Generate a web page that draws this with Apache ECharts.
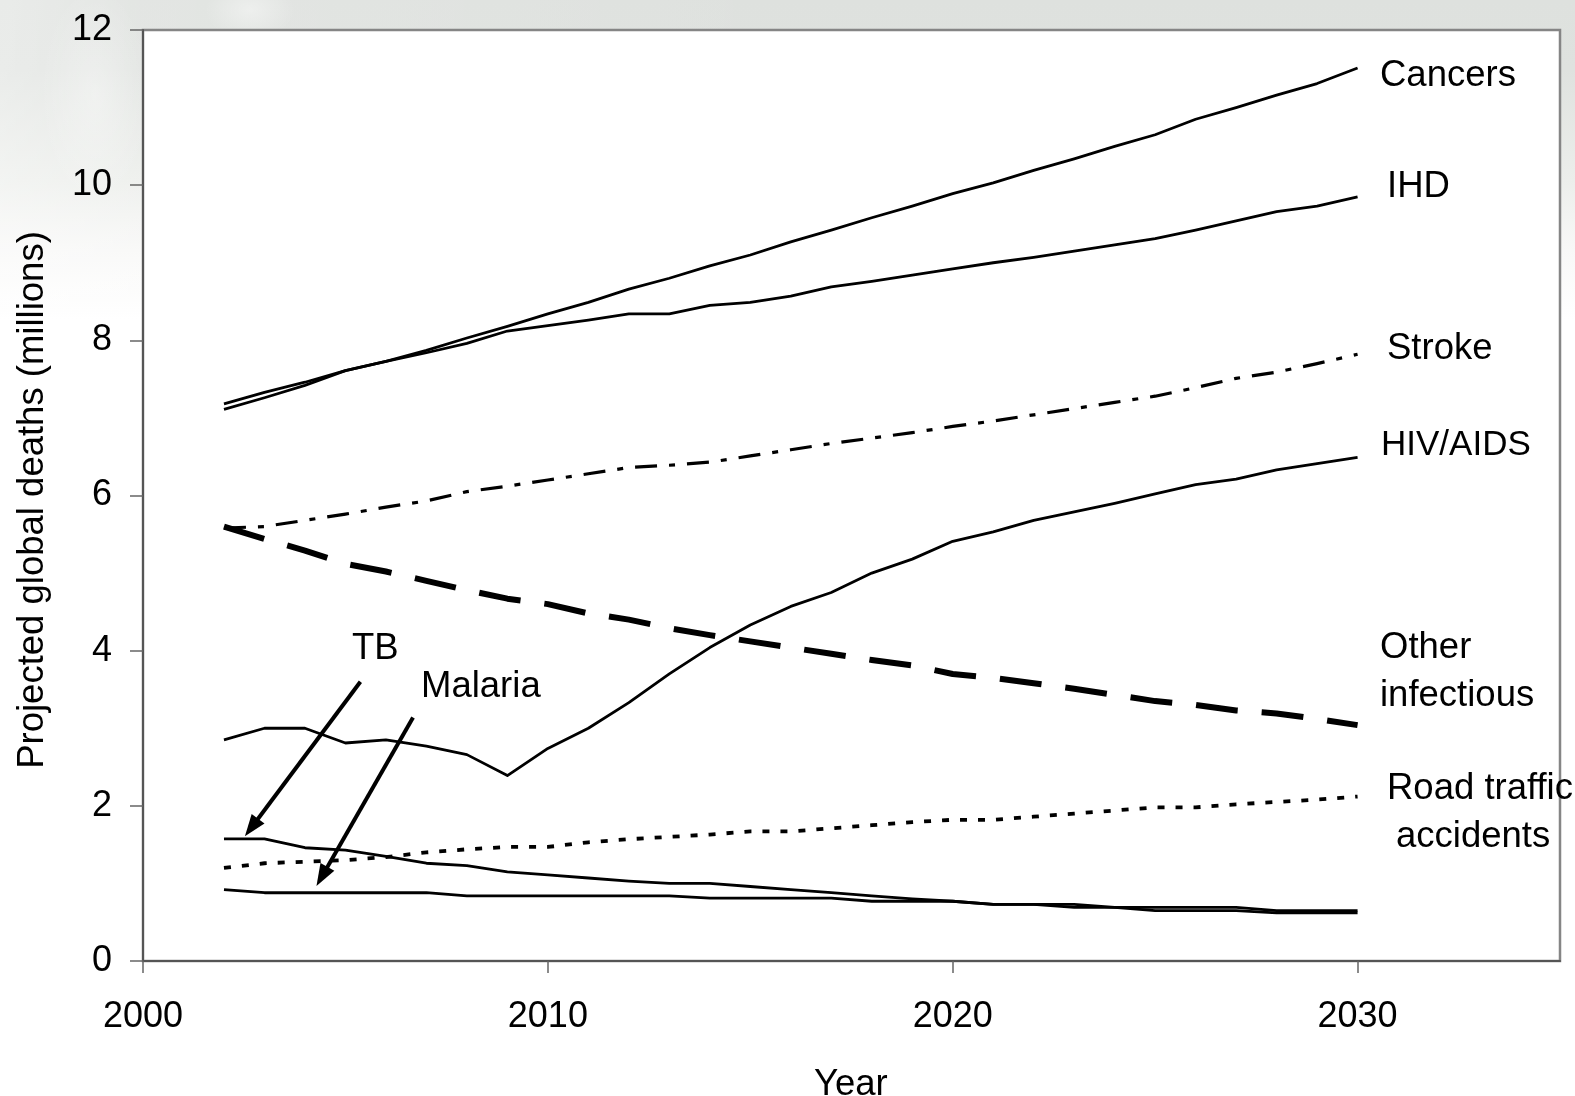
<!DOCTYPE html>
<html>
<head>
<meta charset="utf-8">
<script src="https://cdn.jsdelivr.net/npm/echarts@6/dist/echarts.min.js"></script>
<style>
  html, body { margin: 0; padding: 0; background: #fff; }
  #main {
    width: 1575px;
    height: 1096px;
    background:
      radial-gradient(ellipse 55px 110px at 95px 95px, rgba(255,255,255,0.35), rgba(255,255,255,0) 100%),
      radial-gradient(ellipse 45px 30px at 250px 10px, rgba(255,255,255,0.4), rgba(255,255,255,0) 100%),
      linear-gradient(90deg, rgba(255,255,255,0.35) 0, rgba(255,255,255,0.15) 140px, rgba(255,255,255,0) 800px),
      linear-gradient(180deg, #dee1de 0, #dfe2df 70px, #eceeeb 180px, #f8f8f7 250px, #ffffff 320px);
  }
</style>
</head>
<body>
<div id="main"></div>
<script>
const years = [2002, 2003, 2004, 2005, 2006, 2007, 2008, 2009, 2010, 2011, 2012, 2013, 2014, 2015, 2016,
  2017, 2018, 2019, 2020, 2021, 2022, 2023, 2024, 2025, 2026, 2027, 2028, 2029, 2030];
const cancers = [7.11, 7.26, 7.42, 7.61, 7.73, 7.87, 8.03, 8.18, 8.34, 8.49, 8.66, 8.8, 8.96, 9.1, 9.27,
  9.42, 9.58, 9.73, 9.89, 10.03, 10.19, 10.34, 10.5, 10.65, 10.85, 11.0, 11.16, 11.31, 11.51];
const ihd = [7.18, 7.33, 7.46, 7.61, 7.73, 7.84, 7.96, 8.12, 8.19, 8.26, 8.34, 8.34, 8.45, 8.49, 8.57,
  8.69, 8.76, 8.84, 8.92, 9.0, 9.07, 9.15, 9.23, 9.31, 9.42, 9.54, 9.66, 9.73, 9.85];
const stroke = [5.58, 5.6, 5.68, 5.76, 5.85, 5.93, 6.05, 6.12, 6.2, 6.28, 6.36, 6.39, 6.43, 6.51, 6.59,
  6.67, 6.74, 6.81, 6.89, 6.96, 7.04, 7.12, 7.2, 7.28, 7.39, 7.51, 7.59, 7.7, 7.82];
const hivAids = [2.85, 3.0, 3.0, 2.81, 2.85, 2.77, 2.66, 2.39, 2.74, 3.0, 3.33, 3.7, 4.04, 4.33, 4.57,
  4.75, 5.0, 5.18, 5.41, 5.53, 5.68, 5.79, 5.9, 6.02, 6.14, 6.21, 6.33, 6.41, 6.49];
const otherInfectious = [5.6, 5.44, 5.29, 5.12, 5.02, 4.9, 4.78, 4.67, 4.6, 4.48, 4.4, 4.29, 4.2, 4.12, 4.04,
  3.96, 3.88, 3.81, 3.7, 3.65, 3.58, 3.51, 3.43, 3.35, 3.3, 3.23, 3.19, 3.12, 3.04];
const roadTraffic = [1.2, 1.26, 1.28, 1.3, 1.34, 1.4, 1.44, 1.47, 1.47, 1.53, 1.57, 1.6, 1.63, 1.67, 1.67,
  1.71, 1.75, 1.79, 1.82, 1.82, 1.86, 1.9, 1.94, 1.98, 1.98, 2.02, 2.05, 2.08, 2.12];
const tb = [1.575, 1.575, 1.46, 1.43, 1.35, 1.26, 1.23, 1.15, 1.11, 1.07, 1.03, 1.0, 1.0, 0.96, 0.92,
  0.88, 0.84, 0.8, 0.77, 0.73, 0.73, 0.73, 0.69, 0.69, 0.69, 0.69, 0.65, 0.65, 0.65];
const malaria = [0.92, 0.88, 0.88, 0.88, 0.88, 0.88, 0.84, 0.84, 0.84, 0.84, 0.84, 0.84, 0.81, 0.81, 0.81,
  0.81, 0.77, 0.77, 0.77, 0.73, 0.73, 0.69, 0.69, 0.65, 0.65, 0.65, 0.62, 0.62, 0.62];
const xTicks = [2000, 2010, 2020, 2030];

const FONT = "'Liberation Sans', Arial, sans-serif";
const chart = echarts.init(document.getElementById("main"), null, { renderer: "canvas" });

const pairs = (values) => values.map((v, i) => [years[i], v]);
const lineSeries = (name, values, style, extra) => ({
  type: "line",
  name,
  data: pairs(values),
  showSymbol: false,
  silent: true,
  lineStyle: { color: "#000", join: "round", cap: "butt", ...style },
  ...extra,
});

const arrow = (from, to) => [
  { coord: from, symbol: "none" },
  { coord: to, symbol: "triangle", symbolSize: [16, 22] },
];

const label = (text, x, y, size = 36.5) => ({
  type: "text",
  left: x,
  top: y - 18,
  style: { text, font: `${size}px ${FONT}`, fill: "#000", lineHeight: 40, textVerticalAlign: "top" },
});

chart.setOption({
  animation: false,
  backgroundColor: "transparent",
  grid: {
    left: 143,
    top: 30,
    width: 1417,
    height: 931,
    show: true,
    backgroundColor: "#fff",
    borderColor: "#858585",
    borderWidth: 2.5,
  },
  xAxis: {
    type: "value",
    min: 2000,
    max: 2035,
    interval: 10,
    splitLine: { show: false },
    axisLine: { lineStyle: { color: "#555", width: 2 } },
    axisTick: { length: 12, customValues: xTicks, lineStyle: { color: "#666", width: 1.5 } },
    axisLabel: {
      customValues: xTicks,
      margin: 38,
      color: "#000",
      fontFamily: FONT,
      fontSize: 36,
      formatter: (v) => String(v),
    },
  },
  yAxis: {
    type: "value",
    min: 0,
    max: 12,
    interval: 2,
    splitLine: { show: false },
    axisLine: { show: true, lineStyle: { color: "#555", width: 2 } },
    axisTick: { show: true, length: 13, lineStyle: { color: "#666", width: 1.5 } },
    axisLabel: { margin: 31, color: "#000", fontFamily: FONT, fontSize: 36, padding: [0, 0, 8, 0] },
  },
  series: [
    lineSeries("Cancers", cancers, { width: 2.8 }),
    lineSeries("IHD", ihd, { width: 2.8 }),
    lineSeries("Stroke", stroke, { width: 3.2, type: [22, 12, 6, 12] }),
    lineSeries("HIV/AIDS", hivAids, { width: 2.8 }),
    lineSeries("Other infectious", otherInfectious, { width: 6, type: [42, 24] }),
    lineSeries("Road traffic accidents", roadTraffic, { width: 3.8, type: [7, 11] }),
    lineSeries("TB", tb, { width: 2.8 }, {
      markLine: {
        silent: true,
        animation: false,
        label: { show: false },
        lineStyle: { color: "#000", width: 4, type: "solid" },
        symbol: ["none", "triangle"],
        data: [
          arrow([2005.37, 3.6], [2002.68, 1.72]),
          arrow([2006.67, 3.14], [2004.42, 1.09]),
        ],
      },
    }),
    lineSeries("Malaria", malaria, { width: 2.8 }),
  ],
  graphic: [
    label("Cancers", 1380, 74),
    label("IHD", 1387, 185),
    label("Stroke", 1387, 347),
    label("HIV/AIDS", 1381, 443, 35),
    label("Other", 1380, 646),
    label("infectious", 1380, 694),
    label("Road traffic", 1387, 787),
    label("accidents", 1396, 835),
    label("TB", 352, 647),
    label("Malaria", 421, 685),
    label("Year", 814, 1083),
    {
      type: "text",
      x: 33,
      y: 500,
      rotation: Math.PI / 2,
      style: {
        text: "Projected global deaths (millions)",
        font: `36.5px ${FONT}`,
        fill: "#000",
        align: "center",
        verticalAlign: "middle",
      },
    },
  ],
});
</script>
</body>
</html>
